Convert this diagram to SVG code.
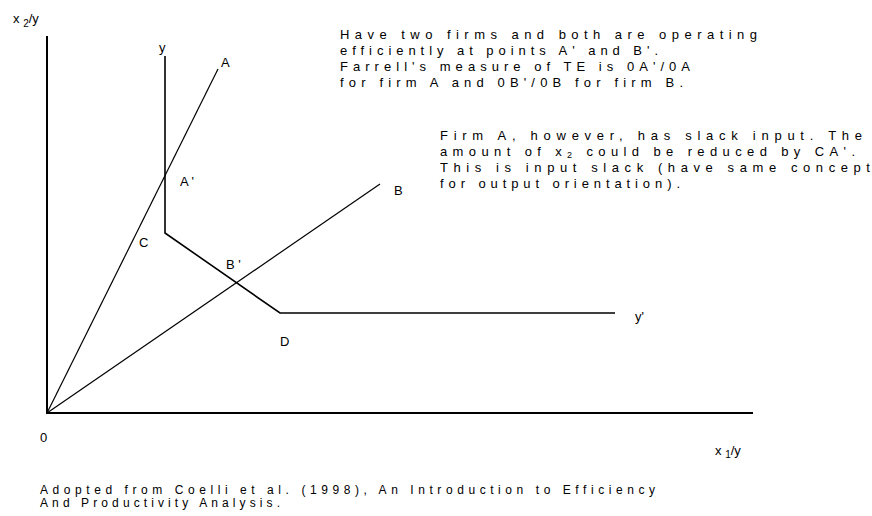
<svg xmlns="http://www.w3.org/2000/svg" width="872" height="516" viewBox="0 0 872 516">
<style>
.axis{stroke:#000;stroke-width:2;fill:none}
.ray{stroke:#000;stroke-width:1.2;fill:none}
.iso{stroke:#000;stroke-width:1.6;fill:none}
.lbl{font-family:"Liberation Sans",Arial,sans-serif;font-size:13px;fill:#000}
.note{font-family:"Liberation Sans",Arial,sans-serif;font-size:13px;fill:#000}
.foot{font-family:"Liberation Sans",Arial,sans-serif;font-size:12px;fill:#000}
</style>
<rect width="872" height="516" fill="#fff"/>
<g id="axes">
<polyline class="axis" points="47,36 47,413 753,413"/>
</g>
<g id="connectors">
<line id="ray-0A" class="ray" x1="47" y1="413" x2="218" y2="69"/>
<line id="ray-0B" class="ray" x1="47" y1="413" x2="380" y2="184"/>
<polyline id="isoquant" class="iso" points="165,56 165,233 280,313 615,313"/>
</g>
<g id="axis-labels">
<text class="lbl" x="13" y="23">x <tspan font-size="10" dy="4">2</tspan><tspan dy="-4">/y</tspan></text>
<text class="lbl" x="715" y="455">x <tspan font-size="10" dy="3">1</tspan><tspan dy="-3">/y</tspan></text>
<text class="lbl" x="40" y="442">0</text>
</g>
<g id="point-labels">
<text class="lbl" x="159" y="52">y</text>
<text class="lbl" x="221" y="67">A</text>
<text class="lbl" x="180" y="186">A '</text>
<text class="lbl" x="139" y="247">C</text>
<text class="lbl" x="226" y="269">B '</text>
<text class="lbl" x="394" y="195">B</text>
<text class="lbl" x="280" y="346">D</text>
<text class="lbl" x="635" y="321">y'</text>
</g>
<g id="note-1">
<text class="note" x="340" y="39" textLength="417" lengthAdjust="spacing">Have two firms and both are operating</text>
<text class="note" x="340" y="55" textLength="318" lengthAdjust="spacing">efficiently at points A' and B'.</text>
<text class="note" x="340" y="71" textLength="350" lengthAdjust="spacing">Farrell's measure of TE is 0A'/0A</text>
<text class="note" x="340" y="87" textLength="343" lengthAdjust="spacing">for firm  A and 0B'/0B for firm  B.</text>
</g>
<g id="note-2">
<text class="note" x="440" y="140" textLength="422" lengthAdjust="spacing">Firm A, however, has slack input.  The</text>
<text class="note" x="440" y="156" textLength="415" lengthAdjust="spacing">amount of x<tspan font-size="9" dy="2">2</tspan><tspan dy="-2"> could be reduced by CA'.</tspan></text>
<text class="note" x="440" y="172" textLength="430" lengthAdjust="spacing">This is input slack (have same concept</text>
<text class="note" x="440" y="188" textLength="240" lengthAdjust="spacing">for output orientation).</text>
</g>
<g id="footer">
<text class="foot" x="40" y="494" textLength="615" lengthAdjust="spacing">Adopted from Coelli et al. (1998), An Introduction to Efficiency</text>
<text class="foot" x="40" y="507" textLength="240" lengthAdjust="spacing">And Productivity Analysis.</text>
</g>
</svg>
